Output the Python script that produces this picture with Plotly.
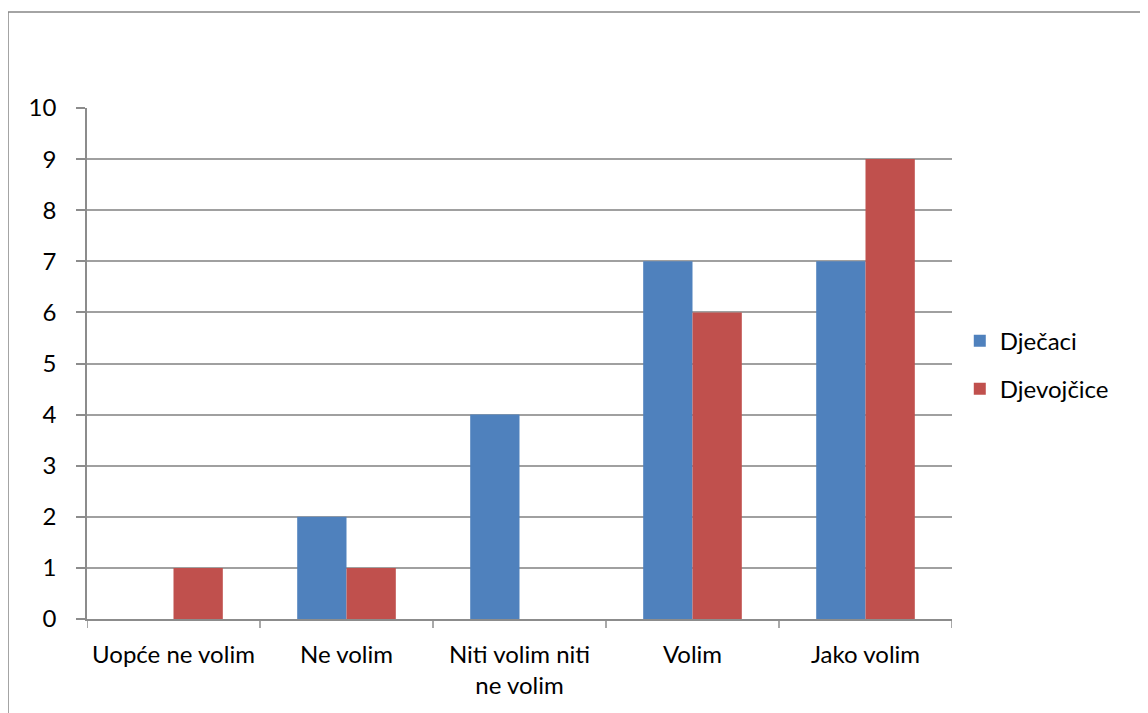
import plotly.graph_objects as go

categories = ["Uopće ne volim", "Ne volim", "Niti volim niti<br>ne volim", "Volim", "Jako volim"]
djecaci = [0, 2, 4, 7, 7]
djevojcice = [1, 1, 0, 6, 9]
y_ticks = list(range(0, 11))

W, H = 1148, 713
OFF = 8  # page body margin offset
L, R, T, B = 87 - OFF, 952 - OFF, 108 - OFF, 619 - OFF
pw, ph = R - L, B - T

fig = go.Figure()
fig.add_trace(go.Bar(name="Dječaci", x=categories, y=djecaci, marker=dict(color="#4F81BD", line=dict(width=0)),
                     legendgroup="a"))
fig.add_trace(go.Bar(name="Djevojčice", x=categories, y=djevojcice, marker=dict(color="#C0504D", line=dict(width=0)),
                     legendgroup="b"))

font = dict(family="Lato, Carlito, Open Sans, sans-serif", size=24, color="#000000")

fig.update_layout(
    width=W, height=H,
    margin=dict(l=L, r=W - R, t=T, b=H - B, autoexpand=False),
    paper_bgcolor="white", plot_bgcolor="white",
    barmode="group", bargap=0.43, bargroupgap=0,
    font=font,
    showlegend=True,
    legend=dict(x=1.009, y=0.497, xanchor="left", yanchor="middle", font=font,
                tracegroupgap=14, itemwidth=30, bgcolor="rgba(0,0,0,0)"),
    xaxis=dict(type="category", showgrid=False, showline=True, linecolor="#8C8C8C", linewidth=1.5,
               ticks="", tickfont=font, fixedrange=True, ticklabelstandoff=13),
    yaxis=dict(range=[0, 10], tickvals=y_ticks, showgrid=True, gridcolor="#A0A0A0", gridwidth=1.5,
               showline=True, linecolor="#8C8C8C", linewidth=1.5, ticks="outside", ticklen=9,
               tickcolor="#8C8C8C", tickwidth=1.5, tickfont=font, zeroline=False, ticklabelstandoff=15),
)

# category boundary tick marks on the x axis
shapes = []
n = len(categories)
for i in range(n + 1):
    shapes.append(dict(type="line", xref="x", yref="paper", x0=i - 0.5, x1=i - 0.5, y0=0, y1=-9 / ph,
                       line=dict(color="#8C8C8C", width=1.5)))
# outer chart border
shapes.append(dict(type="rect", xref="paper", yref="paper",
                   x0=(0 - L) / pw, x1=(W + 20 - L) / pw, y0=(B - (H + 20)) / ph, y1=(B - 4) / ph,
                   line=dict(color="#868686", width=1.5), fillcolor="rgba(0,0,0,0)", layer="below"))
fig.update_layout(shapes=shapes)
fig.update_xaxes(range=[-0.5, n - 0.5])

fig.write_html("out.html")
